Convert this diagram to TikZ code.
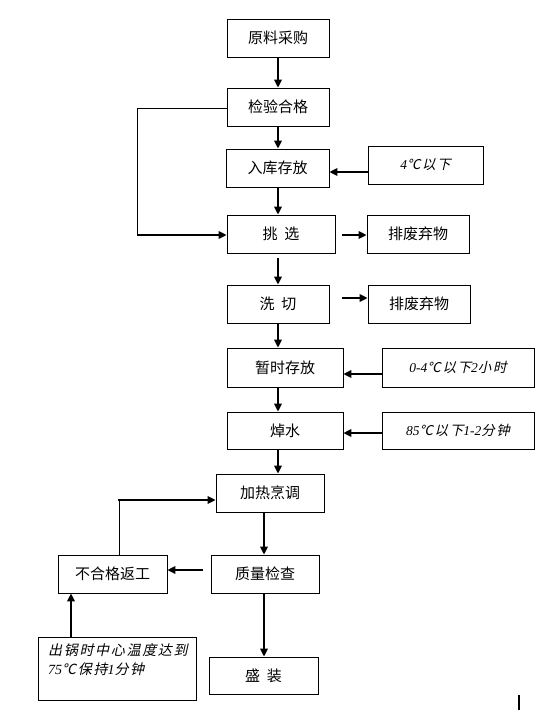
\documentclass[tikz,border=0pt]{standalone}
\usepackage{fontspec}
\setmainfont{Noto Sans CJK SC}
\newfontfamily\cjkit[FakeSlant=0.22,LetterSpace=12]{Noto Sans CJK SC}
\newfontfamily\numit{Liberation Serif Italic}
\usetikzlibrary{arrows.meta}
\begin{document}
\begin{tikzpicture}[x=1pt,y=-1pt,
    box/.style={draw,line width=0.8pt,minimum height=38pt,inner sep=0,anchor=center,font=\fontsize{15}{17}\selectfont},
    note/.style={box,font=\cjkit\fontsize{13.5}{15}\selectfont},
    flow/.style={line width=1.8pt,-{Triangle[length=8pt,width=7.5pt]}},
    thin/.style={line width=0.8pt}]
        \useasboundingbox (0,0) rectangle (552,721);
        % main steps
        \node[box,minimum width=102pt] (yuanliao) at (278,38) {原料采购};
        \node[box,minimum width=102pt] (jianyan) at (278,107) {检验合格};
        \node[box,minimum width=103pt] (ruku) at (277.5,168) {入库存放};
        \node[box,minimum width=108pt] (tiaoxuan) at (281,234) {挑\hspace{0.45em}选};
        \node[box,minimum width=102pt] (xiqie) at (278,304) {洗\hspace{0.45em}切};
        \node[box,minimum width=116pt,minimum height=39pt] (zanshi) at (285,367.5) {暂时存放};
        \node[box,minimum width=116pt,minimum height=37pt] (chaoshui) at (285,430.5) {焯水};
        \node[box,minimum width=108pt] (jiare) at (270,493) {加热烹调};
        \node[box,minimum width=108pt] (zhiliang) at (265,574) {质量检查};
        \node[box,minimum width=109pt,minimum height=37pt] (shengzhuang) at (263.5,675.5) {盛\hspace{0.45em}装};
        \node[box,minimum width=109pt] (fangong) at (112.5,574) {不合格返工};
        % side notes
        \node[note,minimum width=115pt] (wendu1) at (425.5,165) {{\numit 4}℃以下};
        \node[box,minimum width=102pt] (feiwu1) at (418,234) {排废弃物};
        \node[box,minimum width=102pt] (feiwu2) at (419,304) {排废弃物};
        \node[note,minimum width=152pt,minimum height=39pt] (wendu2) at (458,367.5) {{\numit 0-4}℃以下{\numit 2}小时};
        \node[note,minimum width=152pt,minimum height=37pt] (wendu3) at (458,430.5) {{\numit 85}℃以下{\numit 1-2}分钟};
        \node[box,minimum width=158pt,minimum height=63pt] (chuguo) at (117,668.5) {};
        \node[font=\cjkit\fontsize{14}{19}\selectfont,anchor=north west,align=left,inner sep=0]
            (chuguotext) at (48,643) {出锅时中心温度达到\\{\numit 75}℃保持{\numit 1}分钟};
        % flow down
        \draw[flow] (yuanliao.south) -- (jianyan.north);
        \draw[flow] (jianyan.south) -- (ruku.north -| jianyan);
        \draw[flow] (ruku.south -| jianyan) -- (tiaoxuan.north -| jianyan);
        \draw[flow,shorten <=5pt] (tiaoxuan.south -| jianyan) -- (xiqie.north);
        \draw[flow] (xiqie.south) -- (zanshi.north -| xiqie);
        \draw[flow] (zanshi.south -| xiqie) -- (chaoshui.north -| xiqie);
        \draw[flow] (chaoshui.south -| xiqie) -- (jiare.north -| xiqie);
        \draw[flow] ([xshift=-6pt]jiare.south) -- (zhiliang.north -| 264,0);
        \draw[flow] (zhiliang.south -| 264,0) -- (shengzhuang.north -| 264,0);
        % side arrows
        \draw[flow] ([yshift=-7pt]wendu1.west) -- (ruku.east |- 0,172);
        \draw[flow,shorten <=7pt] ([yshift=-1pt]tiaoxuan.east) -- ([yshift=-1pt]feiwu1.west);
        \draw[flow,shorten <=13pt] ([yshift=6pt]xiqie.east) -- ([yshift=6pt]feiwu2.west);
        \draw[flow] ([yshift=-6.5pt]wendu2.west) -- ([yshift=-6.5pt]zanshi.east);
        \draw[flow] ([yshift=-2.5pt]wendu3.west) -- ([yshift=-2.5pt]chaoshui.east);
        \draw[flow,shorten <=8pt] ([yshift=4pt]zhiliang.west) -- ([yshift=4pt]fangong.east);
        \draw[flow] (chuguo.north -| 71,0) -- (fangong.south -| 71,0);
        % loops back
        \draw[thin] ([yshift=-1pt]jianyan.west) -- (137,108) coordinate (loopa) -- (loopa |- 0,235);
        \draw[flow] (loopa |- 0,235) -- ([yshift=-1pt]tiaoxuan.west);
        \draw[thin] (fangong.north -| 119,0) -- (119,500) coordinate (loopb);
        \draw[flow] ([xshift=-0.8pt]loopb) -- ([yshift=-7pt]jiare.west);
        % cursor mark
        \fill (518,695) rectangle (520,710);
    \end{tikzpicture}
\end{document}
